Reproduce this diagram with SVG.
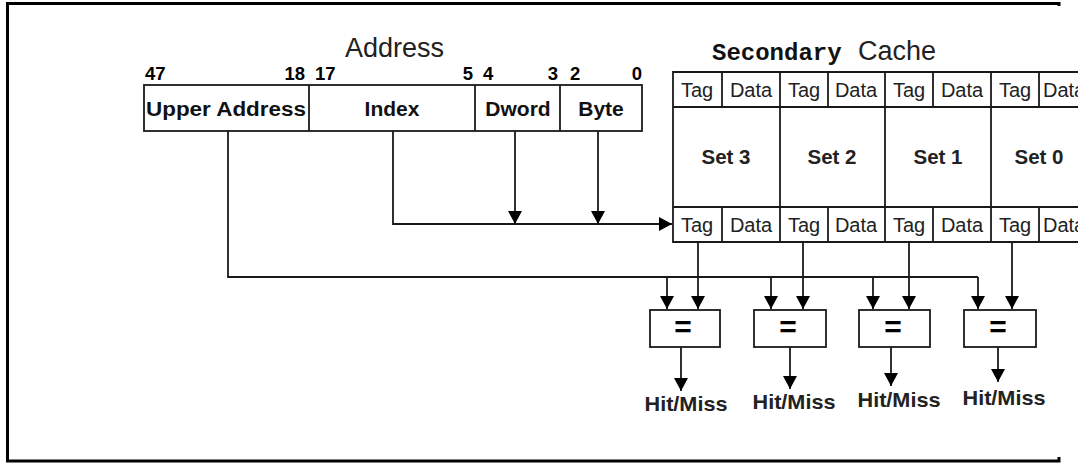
<svg xmlns="http://www.w3.org/2000/svg" width="1078" height="463" viewBox="0 0 1078 463">
<style>
.ln{stroke:#1a1a1a;stroke-width:1.8;fill:none}
.bx{stroke:#1a1a1a;stroke-width:1.8;fill:#fff}
.ar{stroke:#1a1a1a;stroke-width:1.8;fill:none;marker-end:url(#ah)}
.b{font-family:"Liberation Sans",Arial,sans-serif;font-weight:bold;fill:#111}
.n{font-family:"Liberation Sans",Arial,sans-serif;fill:#222}
.cell{font-family:"Liberation Sans",Arial,sans-serif;font-size:20px;fill:#222}
.set{font-family:"Liberation Sans",Arial,sans-serif;font-weight:bold;font-size:20.5px;fill:#222}
.hm{font-family:"Liberation Sans",Arial,sans-serif;font-weight:bold;font-size:21px;fill:#222}
.eq{font-family:"Liberation Sans",Arial,sans-serif;font-weight:bold;font-size:30px;fill:#000}
.bit{font-family:"Liberation Sans",Arial,sans-serif;font-weight:bold;font-size:18.5px;fill:#000}
</style>
<defs>
<marker id="ah" markerWidth="14" markerHeight="14" refX="13" refY="7" orient="auto" markerUnits="userSpaceOnUse">
<path d="M0,0 L13,7 L0,14 z" fill="#000"/>
</marker>
</defs>
<rect width="1078" height="463" fill="#fff"/>
<g id="frame">
<path d="M1059,6 L1059,3.5 L7.5,3.5 L7.5,461 L1059,461 L1059,457" stroke="#000" stroke-width="3" fill="none"/>
</g>
<g id="address">
<text class="n" x="345" y="57" font-size="27">Address</text>
<text class="bit" x="145" y="80">47</text>
<text class="bit" x="305" y="80" text-anchor="end">18</text>
<text class="bit" x="315" y="80">17</text>
<text class="bit" x="473" y="80" text-anchor="end">5</text>
<text class="bit" x="483" y="80">4</text>
<text class="bit" x="558" y="80" text-anchor="end">3</text>
<text class="bit" x="570" y="80">2</text>
<text class="bit" x="642" y="80" text-anchor="end">0</text>
<rect class="bx" x="144" y="85" width="498" height="46"/>
<line class="ln" x1="309" y1="85" x2="309" y2="131"/>
<line class="ln" x1="475" y1="85" x2="475" y2="131"/>
<line class="ln" x1="560" y1="85" x2="560" y2="131"/>
<text class="b" x="226" y="116" font-size="20" text-anchor="middle" textLength="160" lengthAdjust="spacingAndGlyphs">Upper Address</text>
<text class="b" x="392" y="116" font-size="21" text-anchor="middle">Index</text>
<text class="b" x="518" y="116" font-size="21" text-anchor="middle">Dword</text>
<text class="b" x="601" y="116" font-size="21" text-anchor="middle">Byte</text>
</g>
<g id="cache">
<text x="712" y="60" font-family="'Liberation Mono','Courier New',monospace" font-weight="bold" font-size="24" fill="#111">Secondary</text>
<text class="n" x="858" y="60" font-size="27">Cache</text>
<path class="ln" d="M1090,72 L673,72 L673,242 L1090,242 M673,107 L1090,107 M673,207 L1090,207"/>
<path class="ln" d="M780,72 L780,242 M885,72 L885,242 M991,72 L991,242"/>
<path class="ln" d="M722,72 L722,107 M828,72 L828,107 M933,72 L933,107 M1039,72 L1039,107"/>
<path class="ln" d="M722,207 L722,242 M828,207 L828,242 M933,207 L933,242 M1039,207 L1039,242"/>
<g text-anchor="middle">
<text class="cell" x="697" y="97">Tag</text>
<text class="cell" x="751" y="97">Data</text>
<text class="cell" x="804" y="97">Tag</text>
<text class="cell" x="856" y="97">Data</text>
<text class="cell" x="909" y="97">Tag</text>
<text class="cell" x="962" y="97">Data</text>
<text class="cell" x="1015" y="97">Tag</text>
<text class="set" x="726" y="164">Set 3</text>
<text class="set" x="832" y="164">Set 2</text>
<text class="set" x="938" y="164">Set 1</text>
<text class="set" x="1039" y="164">Set 0</text>
<text class="cell" x="697" y="232">Tag</text>
<text class="cell" x="751" y="232">Data</text>
<text class="cell" x="804" y="232">Tag</text>
<text class="cell" x="856" y="232">Data</text>
<text class="cell" x="909" y="232">Tag</text>
<text class="cell" x="962" y="232">Data</text>
<text class="cell" x="1015" y="232">Tag</text>
</g>
<text class="cell" x="1043" y="97">Data</text>
<text class="cell" x="1043" y="232">Data</text>
</g>
<g text-anchor="middle">
<g id="cmp0">
<rect class="bx" x="650" y="310" width="70" height="37"/>
<text class="eq" x="683" y="337">=</text>
<text class="hm" x="686" y="411" textLength="83" lengthAdjust="spacingAndGlyphs">Hit/Miss</text>
</g>
<g id="cmp1">
<rect class="bx" x="754" y="310" width="72" height="37"/>
<text class="eq" x="788" y="337">=</text>
<text class="hm" x="794" y="409" textLength="83" lengthAdjust="spacingAndGlyphs">Hit/Miss</text>
</g>
<g id="cmp2">
<rect class="bx" x="859" y="310" width="71" height="37"/>
<text class="eq" x="893" y="337">=</text>
<text class="hm" x="899" y="407" textLength="83" lengthAdjust="spacingAndGlyphs">Hit/Miss</text>
</g>
<g id="cmp3">
<rect class="bx" x="964" y="310" width="72" height="37"/>
<text class="eq" x="998" y="337">=</text>
<text class="hm" x="1004" y="405" textLength="83" lengthAdjust="spacingAndGlyphs">Hit/Miss</text>
</g>
</g>
<g id="connectors">
<path class="ar" d="M393,131 L393,224 L672,224"/>
<path class="ar" d="M515,131 L515,224"/>
<path class="ar" d="M598,131 L598,224"/>
<path class="ln" d="M228,131 L228,277 L978,277"/>
<path class="ar" d="M667,277 L667,309"/>
<path class="ar" d="M771,277 L771,309"/>
<path class="ar" d="M873,277 L873,309"/>
<path class="ar" d="M978,277 L978,309"/>
<path class="ar" d="M698,242 L698,309"/>
<path class="ar" d="M803,242 L803,309"/>
<path class="ar" d="M909,242 L909,309"/>
<path class="ar" d="M1012,242 L1012,309"/>
<path class="ar" d="M681,347 L681,391"/>
<path class="ar" d="M790,347 L790,389"/>
<path class="ar" d="M891,347 L891,386"/>
<path class="ar" d="M998,347 L998,382"/>
</g>
</svg>
